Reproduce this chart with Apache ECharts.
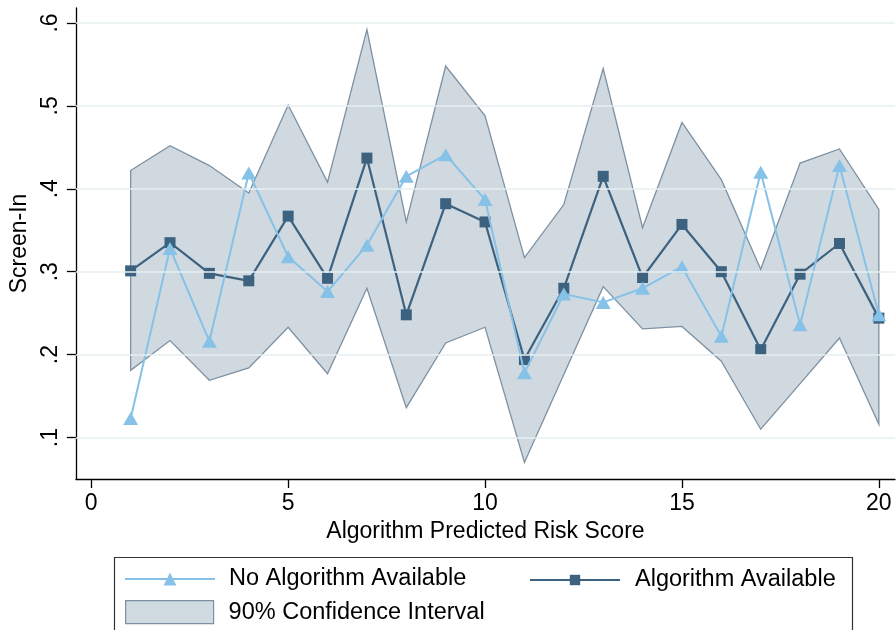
<!DOCTYPE html>
<html>
<head>
<meta charset="utf-8">
<script src="https://cdn.jsdelivr.net/npm/echarts@6/dist/echarts.min.js"></script>
<style>html,body{margin:0;padding:0;background:#fff}#c{width:896px;height:630px}</style>
</head>
<body>
<div id="c"></div>
<script>
const riskScores = [1,2,3,4,5,6,7,8,9,10,11,12,13,14,15,16,17,18,19,20];
const noAlgorithm = [0.123,0.328,0.216,0.419,0.318,0.276,0.332,0.415,0.441,0.387,0.178,0.273,0.263,0.280,0.306,0.222,0.420,0.236,0.428,0.248];
const algorithm = [0.301,0.335,0.298,0.289,0.367,0.292,0.437,0.248,0.382,0.360,0.194,0.280,0.415,0.293,0.357,0.300,0.206,0.297,0.334,0.244];
const ciLow = [0.181,0.217,0.169,0.184,0.233,0.177,0.280,0.136,0.214,0.233,0.070,0.176,0.282,0.231,0.234,0.192,0.110,0.165,0.220,0.116];
const ciHigh = [0.422,0.452,0.428,0.395,0.501,0.408,0.592,0.360,0.548,0.488,0.317,0.381,0.545,0.353,0.480,0.411,0.303,0.431,0.448,0.375];
const xTicks = [0,5,10,15,20];
const yTicks = [0.1,0.2,0.3,0.4,0.5,0.6];

const FONT = 'Liberation Sans';
const LIGHT = '#86c1e8';
const DARK = '#3c6280';
const BAND_FILL = 'rgba(98,128,152,0.30)';
const BAND_EDGE = '#7d91a2';
const GRID = '#e6eff2';

const chart = echarts.init(document.getElementById('c'), null, {renderer: 'canvas'});

const bandData = riskScores.map((x, i) => [x, ciLow[i], ciHigh[i]]);

chart.setOption({
  animation: false,
  backgroundColor: '#fff',
  grid: {left: 74, top: 8, width: 821, height: 471, containLabel: false},
  xAxis: {
    type: 'value', min: -0.39, max: 20.41,
    axisLine: {show: true, onZero: false, lineStyle: {color: '#000', width: 1.3}},
    axisTick: {show: true, length: 9, customValues: xTicks, lineStyle: {color: '#000', width: 1.3}},
    axisLabel: {customValues: xTicks, margin: 13, fontFamily: FONT, fontSize: 23, color: '#000'},
    splitLine: {show: false},
    name: 'Algorithm Predicted Risk Score', nameLocation: 'middle', nameGap: 40,
    nameTextStyle: {fontFamily: FONT, fontSize: 23, color: '#000'}
  },
  yAxis: {
    type: 'value', min: 0.05, max: 0.618,
    axisLine: {show: true, onZero: false, lineStyle: {color: '#000', width: 1.3}},
    axisTick: {show: true, length: 9, customValues: yTicks, lineStyle: {color: '#000', width: 1.3}},
    axisLabel: {customValues: yTicks, rotate: 90, margin: 14, fontFamily: FONT, fontSize: 23, color: '#000',
      formatter: v => v.toFixed(1).replace(/^0/, '')},
    splitLine: {show: false},
    name: 'Screen-In', nameLocation: 'middle', nameRotate: 90, nameGap: 41,
    nameTextStyle: {fontFamily: FONT, fontSize: 23, color: '#000'}
  },
  legend: [
    {data: ['No Algorithm Available'], left: 124, top: 567, padding: 0, itemWidth: 90, itemHeight: 16, itemGap: 0,
      textStyle: {fontFamily: FONT, fontSize: 23.5, color: '#000', padding: [0,0,0,9]}, selectedMode: false},
    {data: ['Algorithm Available'], left: 529, top: 568, padding: 0, itemWidth: 90, itemHeight: 13, itemGap: 0,
      textStyle: {fontFamily: FONT, fontSize: 23.5, color: '#000', padding: [0,0,0,10]}, selectedMode: false},
    {data: [{name: '90% Confidence Interval', icon: 'rect'}], left: 125, top: 600, padding: 0, itemWidth: 88, itemHeight: 23, itemGap: 0,
      itemStyle: {color: '#d0dae1', borderColor: BAND_EDGE, borderWidth: 1.2},
      textStyle: {fontFamily: FONT, fontSize: 23.5, color: '#000', padding: [0,0,0,10]}, selectedMode: false}
  ],
  graphic: [
    {type: 'rect', shape: {x: 114.5, y: 557.5, width: 738, height: 90}, style: {fill: 'none', stroke: '#333', lineWidth: 1.2}, silent: true}
  ],
  series: [
    {
      name: 'grid', type: 'line', data: [], z: 0, silent: true,
      markLine: {silent: true, symbol: 'none', label: {show: false}, animation: false,
        lineStyle: {color: GRID, width: 1.6, type: 'solid'},
        data: yTicks.map(v => ({yAxis: v}))}
    },
    {
      name: '90% Confidence Interval', type: 'custom', z: 1, silent: true,
      itemStyle: {color: '#d0dae1', borderColor: BAND_EDGE},
      encode: {x: 0, y: [1, 2]},
      data: bandData,
      renderItem: function (params, api) {
        if (params.dataIndex !== 0) return null;
        const pts = [];
        for (let i = 0; i < riskScores.length; i++) pts.push(api.coord([riskScores[i], ciHigh[i]]));
        for (let i = riskScores.length - 1; i >= 0; i--) pts.push(api.coord([riskScores[i], ciLow[i]]));
        return {type: 'polygon', shape: {points: pts}, style: {fill: BAND_FILL, stroke: BAND_EDGE, lineWidth: 1.3}};
      }
    },
    {
      name: 'No Algorithm Available', type: 'line', z: 3,
      data: riskScores.map((x, i) => [x, noAlgorithm[i]]),
      symbol: 'triangle', symbolSize: [15, 13],
      lineStyle: {color: LIGHT, width: 2}, itemStyle: {color: LIGHT}
    },
    {
      name: 'Algorithm Available', type: 'line', z: 2,
      data: riskScores.map((x, i) => [x, algorithm[i]]),
      symbol: 'rect', symbolSize: 11,
      lineStyle: {color: DARK, width: 2.2}, itemStyle: {color: DARK}
    }
  ]
});
</script>
</body>
</html>
